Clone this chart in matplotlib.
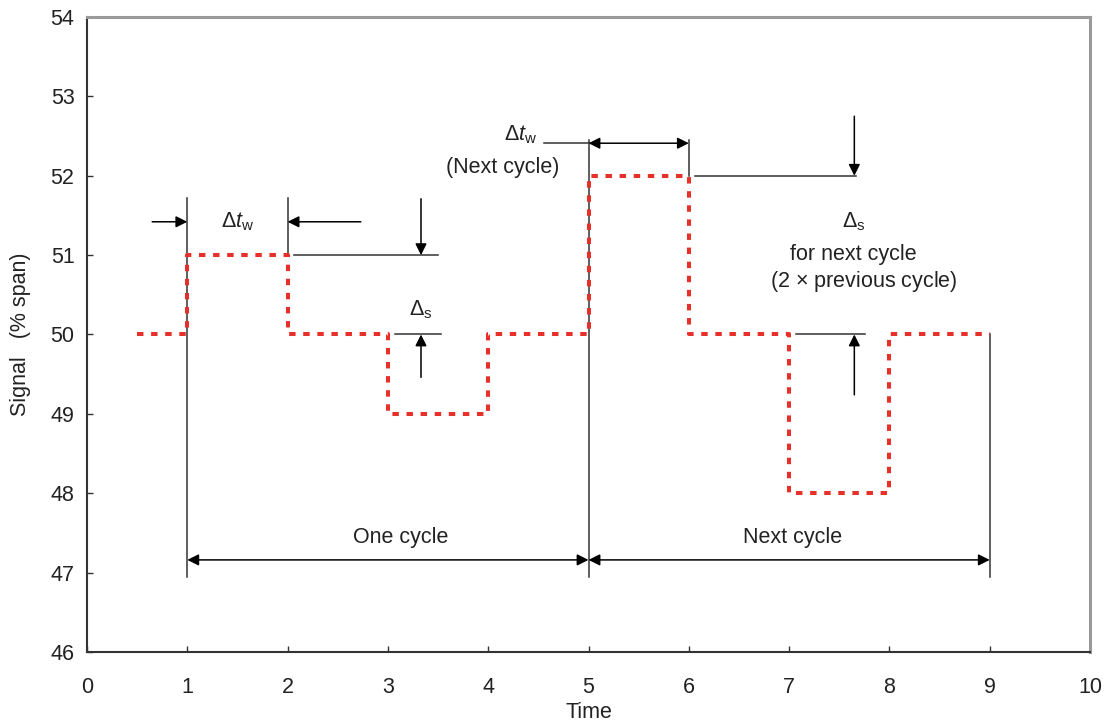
import numpy as np
import matplotlib.pyplot as plt

plt.rcParams['font.family'] = ['Liberation Sans', 'DejaVu Sans']
plt.rcParams['mathtext.fontset'] = 'custom'
plt.rcParams['mathtext.rm'] = 'Liberation Sans'
plt.rcParams['mathtext.it'] = 'Liberation Sans:italic'

# signal steps (time, level)
step_t = [0.5, 1, 2, 3, 4, 5, 6, 7, 8, 9]
step_y = [50, 51, 50, 49, 50, 52, 50, 48, 50, 50]

xticks = list(range(0, 11))
yticks = list(range(46, 55))

txt = '#222222'
ln = '#333333'
fs = 15.5

fig = plt.figure(figsize=(11.08, 7.27), dpi=100)
ax = fig.add_axes([0.0785, 0.1032, 0.9053, 0.8734])

ax.step(step_t, step_y, where='post', color='#e8302a', lw=2.9,
        linestyle=(0, (1.6, 1.9)), zorder=3)

ax.set_xlim(0, 10)
ax.set_ylim(46, 54)
ax.set_xticks(xticks)
ax.set_yticks(yticks)
ax.tick_params(axis='x', direction='in', length=4, width=1, pad=18,
               labelsize=fs, labelcolor=txt, color=ln)
ax.tick_params(axis='y', direction='in', length=4, width=1, pad=9,
               labelsize=fs, labelcolor=txt, color=ln)
ax.set_xlabel('Time', fontsize=fs, color=txt, labelpad=3)
ax.set_ylabel('Signal   (% span)', fontsize=fs, color=txt, labelpad=14)

for s in ['left', 'bottom']:
    ax.spines[s].set_color('#333333')
    ax.spines[s].set_linewidth(1.5)
for s in ['top', 'right']:
    ax.spines[s].set_color('#9a9a9a')
    ax.spines[s].set_linewidth(2.2)


def vline(x, y0, y1):
    ax.plot([x, x], [y0, y1], color=ln, lw=1.1, zorder=2)


def hline(y, x0, x1):
    ax.plot([x0, x1], [y, y], color=ln, lw=1.1, zorder=2)


def arrow(x0, y0, x1, y1, style='-|>'):
    ax.annotate('', xy=(x1, y1), xytext=(x0, y0),
                arrowprops=dict(arrowstyle=style, color='black', lw=1.1,
                                mutation_scale=17, shrinkA=0, shrinkB=0))


# vertical reference lines
vline(1, 46.94, 51.72)
vline(2, 51.0, 51.72)
vline(5, 46.94, 52.45)
vline(6, 52.0, 52.45)
vline(9, 46.94, 50.0)

# first cycle width
arrow(0.65, 51.42, 1, 51.42)
arrow(2.73, 51.42, 2, 51.42)
ax.text(1.5, 51.42, r'$\Delta t_{\mathrm{w}}$', fontsize=fs, color=txt,
        ha='center', va='center')

# first cycle step size
hline(51.0, 2.06, 3.5)
arrow(3.33, 51.71, 3.33, 51.0)
ax.text(3.33, 50.31, r'$\Delta_{\mathrm{s}}$', fontsize=fs, color=txt,
        ha='center', va='center')
hline(50.0, 3.07, 3.53)
arrow(3.33, 49.46, 3.33, 50.0)

# next cycle width
hline(52.41, 4.56, 5)
arrow(5, 52.41, 6, 52.41, style='<|-|>')
ax.text(4.32, 52.52, r'$\Delta t_{\mathrm{w}}$', fontsize=fs, color=txt,
        ha='center', va='center')
ax.text(4.14, 52.11, '(Next cycle)', fontsize=fs, color=txt,
        ha='center', va='center')

# next cycle step size
hline(52.0, 6.06, 7.67)
arrow(7.65, 52.75, 7.65, 52.0)
ax.text(7.64, 51.42, r'$\Delta_{\mathrm{s}}$', fontsize=fs, color=txt,
        ha='center', va='center')
ax.text(7.64, 51.01, 'for next cycle', fontsize=fs, color=txt,
        ha='center', va='center')
ax.text(7.74, 50.67, r'(2 $\times$ previous cycle)', fontsize=fs, color=txt,
        ha='center', va='center')
hline(50.0, 7.07, 7.76)
arrow(7.65, 49.24, 7.65, 50.0)

# cycle spans
arrow(1, 47.16, 5, 47.16, style='<|-|>')
arrow(5, 47.16, 9, 47.16, style='<|-|>')
ax.text(3.13, 47.44, 'One cycle', fontsize=fs, color=txt,
        ha='center', va='center')
ax.text(7.03, 47.44, 'Next cycle', fontsize=fs, color=txt,
        ha='center', va='center')

fig.savefig('out.png', dpi=100)
